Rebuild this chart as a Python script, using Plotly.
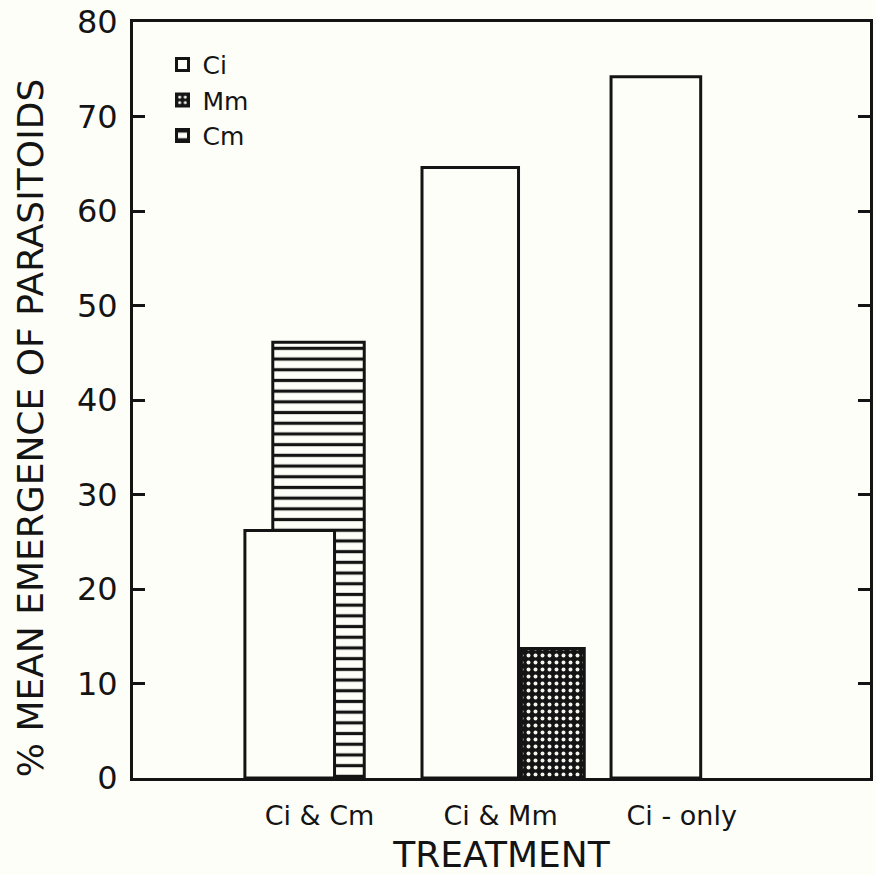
import plotly.graph_objects as go

# ---- data ----
categories = ["Ci & Cm", "Ci & Mm", "Ci - only"]
ci_values = [26.2, 64.6, 74.2]
cm_categories = ["Ci & Cm"]
cm_values = [46.1]
mm_categories = ["Ci & Mm"]
mm_values = [13.7]
y_tick_values = [0, 10, 20, 30, 40, 50, 60, 70, 80]

# ---- styling / placement (not data) ----
ci_offsets = [-0.412, -0.434, -0.39]
ci_widths = [0.495, 0.533, 0.495]
cm_offsets = [-0.258]
cm_widths = [0.505]
mm_offsets = [0.115]
mm_widths = [0.347]

INK = "#141414"
BG = "#fefef8"
FONT = "DejaVu Sans"

fig = go.Figure()

# Cm drawn first so that Ci sits on top of it
fig.add_trace(go.Bar(
    name="Cm", x=cm_categories, y=cm_values,
    offset=cm_offsets, width=cm_widths,
    marker=dict(color=BG, line=dict(color=INK, width=3),
                pattern=dict(shape="-", fgcolor=INK, bgcolor=BG,
                             size=10.7, solidity=0.3, fillmode="replace")),
    legendrank=3,
))
fig.add_trace(go.Bar(
    name="Ci", x=categories, y=ci_values,
    offset=ci_offsets, width=ci_widths,
    marker=dict(color=BG, line=dict(color=INK, width=3)),
    legendrank=1,
))
fig.add_trace(go.Bar(
    name="Mm", x=mm_categories, y=mm_values,
    offset=mm_offsets, width=mm_widths,
    marker=dict(color=INK, line=dict(color=INK, width=3),
                pattern=dict(shape=".", fgcolor="#f4f4ee", bgcolor=INK,
                             size=7, solidity=0.25, fillmode="replace")),
    legendrank=2,
))

fig.update_layout(
    width=876, height=875,
    margin=dict(l=133, r=3, t=19, b=96),
    paper_bgcolor=BG, plot_bgcolor=BG,
    barmode="overlay",
    font=dict(family=FONT, color=INK),
    showlegend=True,
    legend=dict(x=0.04, y=0.974, xanchor="left", yanchor="top",
                bgcolor="rgba(0,0,0,0)", font=dict(size=25, family=FONT, color=INK),
                tracegroupgap=0, itemwidth=30),
    xaxis=dict(
        type="category", categoryorder="array", categoryarray=categories,
        range=[-1.03, 3.04],
        showline=True, linecolor=INK, linewidth=3, mirror=True,
        ticks="", showgrid=False, zeroline=False,
        tickfont=dict(size=27, family=FONT, color=INK),
        ticklabelstandoff=12,
        title=dict(text="TREATMENT", font=dict(size=36, family=FONT, color=INK), standoff=15),
    ),
    yaxis=dict(
        range=[0, 80], tickvals=y_tick_values,
        showline=True, linecolor=INK, linewidth=3, mirror="ticks",
        ticks="inside", ticklen=12, tickwidth=2.5, tickcolor=INK,
        showgrid=False, zeroline=False,
        tickfont=dict(size=32, family=FONT, color=INK),
        ticklabelstandoff=6,
    ),
    annotations=[dict(
        text="% MEAN EMERGENCE OF PARASITOIDS", textangle=-90,
        xref="paper", yref="paper", x=-0.138, y=0.463,
        xanchor="center", yanchor="middle", showarrow=False,
        font=dict(size=36, family=FONT, color=INK),
    )],
)

fig.write_html(
    "out.html",
    config={"displayModeBar": False},
    post_script="document.body.style.margin='0';document.body.style.overflow='hidden';"
                "document.documentElement.style.background='" + BG + "';",
)
